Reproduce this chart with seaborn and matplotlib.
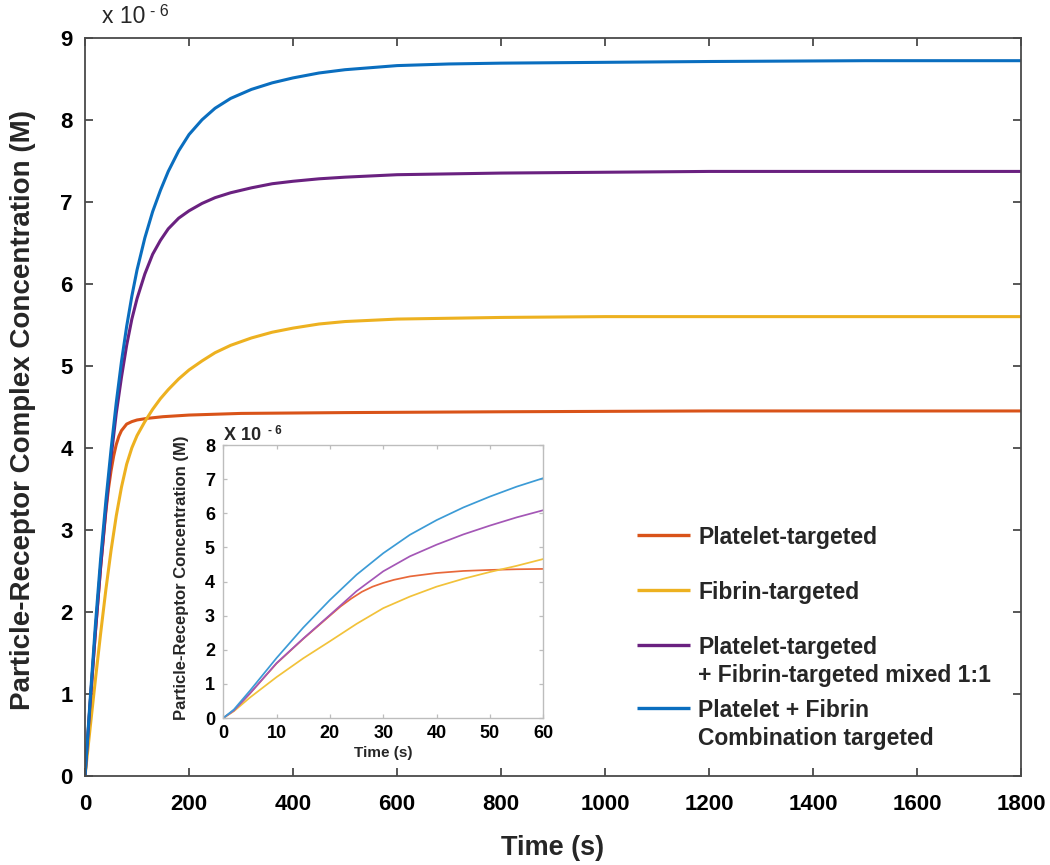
import numpy as np
import pandas as pd
import matplotlib
matplotlib.use("Agg")
import matplotlib.pyplot as plt
import seaborn as sns
from matplotlib.lines import Line2D

# ---------------- data (concentration in units of 1e-6 M) ----------------
series_names = ["Platelet-targeted", "Fibrin-targeted", "Mixed 1:1", "Combination"]
legend_labels = ["Platelet-targeted",
                 "Fibrin-targeted",
                 "Platelet-targeted\n+ Fibrin-targeted mixed 1:1",
                 "Platelet + Fibrin\nCombination targeted"]

# main panel (0-1800 s)
red_t = [0, 10, 20, 30, 40, 45, 50, 55, 60, 65, 70, 80, 90, 100, 120, 150, 200, 300, 500, 800, 1200, 1800]
red_v = [0, 0.9, 1.76, 2.55, 3.22, 3.5, 3.72, 3.9, 4.04, 4.14, 4.21, 4.29, 4.32, 4.34, 4.36, 4.38, 4.40, 4.42, 4.43, 4.44, 4.45, 4.45]

yellow_t = [0, 10, 20, 30, 40, 50, 60, 70, 80, 90, 100, 115, 130, 145, 160, 180, 200, 225, 250, 280,
            320, 360, 400, 450, 500, 600, 700, 800, 1000, 1800]
yellow_v = [0, 0.6, 1.18, 1.74, 2.27, 2.75, 3.17, 3.52, 3.8, 4.0, 4.15, 4.32, 4.47, 4.6, 4.71, 4.84, 4.95,
            5.06, 5.16, 5.25, 5.34, 5.41, 5.46, 5.51, 5.54, 5.57, 5.58, 5.59, 5.6, 5.6]

purple_t = [0, 10, 20, 30, 40, 50, 60, 70, 80, 90, 100, 115, 130, 145, 160, 180, 200, 225, 250, 280,
            320, 360, 400, 450, 500, 600, 700, 800, 1000, 1200, 1500, 1800]
purple_v = [0, 0.9, 1.76, 2.55, 3.25, 3.88, 4.42, 4.86, 5.25, 5.57, 5.82, 6.12, 6.36, 6.53, 6.67, 6.8, 6.89,
            6.98, 7.05, 7.11, 7.17, 7.22, 7.25, 7.28, 7.30, 7.33, 7.34, 7.35, 7.36, 7.37, 7.37, 7.37]

blue_t = [0, 10, 20, 30, 40, 50, 60, 70, 80, 90, 100, 115, 130, 145, 160, 180, 200, 225, 250, 280,
          320, 360, 400, 450, 500, 600, 700, 800, 1000, 1200, 1500, 1800]
blue_v = [0, 0.95, 1.85, 2.65, 3.35, 3.98, 4.55, 5.05, 5.48, 5.85, 6.17, 6.56, 6.88, 7.14, 7.37, 7.62, 7.82,
          8.0, 8.14, 8.26, 8.37, 8.45, 8.51, 8.57, 8.61, 8.66, 8.68, 8.69, 8.70, 8.71, 8.72, 8.72]

# inset panel (0-60 s)
inset_red_t = [0, 2, 5, 10, 15, 20, 22, 24, 26, 28, 30, 32, 35, 40, 45, 50, 55, 60]
inset_red_v = [0, 0.22, 0.72, 1.6, 2.32, 3.0, 3.27, 3.5, 3.7, 3.85, 3.96, 4.05, 4.15, 4.25, 4.31, 4.34, 4.36, 4.37]
inset_t = [0, 2, 5, 10, 15, 20, 25, 30, 35, 40, 45, 50, 55, 60]
inset_yellow = [0, 0.2, 0.6, 1.2, 1.75, 2.25, 2.76, 3.22, 3.56, 3.85, 4.08, 4.28, 4.46, 4.66]
inset_purple = [0, 0.22, 0.72, 1.61, 2.33, 3.02, 3.72, 4.3, 4.74, 5.08, 5.38, 5.64, 5.88, 6.09]
inset_blue = [0, 0.25, 0.8, 1.76, 2.65, 3.46, 4.2, 4.83, 5.37, 5.8, 6.17, 6.49, 6.78, 7.03]

main_xticks = list(range(0, 1801, 200))
main_yticks = list(range(0, 10))
inset_xticks = list(range(0, 61, 10))
inset_yticks = list(range(0, 9))

main_colors = ["#D95319", "#EDB120", "#6A2180", "#0A6EBF"]
inset_colors = ["#E8683A", "#F2C23A", "#A457B6", "#3C9BD6"]

# ---------------- long-form tables ----------------
main_parts = []
for name, t, v in zip(series_names, [red_t, yellow_t, purple_t, blue_t],
                      [red_v, yellow_v, purple_v, blue_v]):
    main_parts.append(pd.DataFrame({"t": t, "v": v, "series": name}))
df_main = pd.concat(main_parts, ignore_index=True)

inset_parts = []
for name, t, v in zip(series_names, [inset_red_t, inset_t, inset_t, inset_t],
                      [inset_red_v, inset_yellow, inset_purple, inset_blue]):
    inset_parts.append(pd.DataFrame({"t": t, "v": v, "series": name}))
df_inset = pd.concat(inset_parts, ignore_index=True)

# ---------------- style ----------------
sns.set_theme(style="white")
plt.rcParams["font.family"] = ["Liberation Sans", "DejaVu Sans"]
plt.rcParams["font.weight"] = "bold"

fig = plt.figure(figsize=(10.5, 8.65), dpi=100)
ax = fig.add_axes([0.0810, 0.1029, 0.8914, 0.8535])

sns.lineplot(data=df_main, x="t", y="v", hue="series", hue_order=series_names,
             palette=main_colors, estimator=None, sort=True, linewidth=2.2,
             legend=False, ax=ax)

ax.set_xlim(0, 1800)
ax.set_ylim(0, 9)
ax.set_xticks(main_xticks)
ax.set_yticks(main_yticks)
spine_col = "#4a4a4a"
for s in ax.spines.values():
    s.set_color(spine_col)
    s.set_linewidth(1.3)
ax.tick_params(direction="in", length=6, width=1.3, color=spine_col,
               top=True, right=True, bottom=True, left=True,
               labelsize=16, labelcolor="black")
ax.tick_params(axis="x", pad=13)
ax.tick_params(axis="y", pad=9)
for lbl in ax.get_xticklabels() + ax.get_yticklabels():
    lbl.set_fontweight("bold")

ax.set_xlabel("Time (s)", fontsize=19.5, fontweight="bold")
ax.set_ylabel("Particle-Receptor Complex Concentration (M)", fontsize=20, fontweight="bold")
ax.xaxis.set_label_coords(0.5, -0.080)
ax.yaxis.set_label_coords(-0.052, 0.496)

ax.text(0.018, 1.0203, "x 10", transform=ax.transAxes, fontsize=16.5,
        fontweight="normal", va="baseline", ha="left")
ax.text(0.0690, 1.0300, "- 6", transform=ax.transAxes, fontsize=11.5,
        fontweight="normal", va="baseline", ha="left")

# legend (manual, handle aligned to first text line)
leg_y = [0.3264, 0.2519, 0.1774, 0.0921]
for col, lab, y in zip(main_colors, legend_labels, leg_y):
    ax.add_line(Line2D([0.590, 0.646], [y, y], transform=ax.transAxes,
                       color=col, lw=2.4, solid_capstyle="butt"))
    ax.text(0.655, y + 0.0118, lab, transform=ax.transAxes, fontsize=16.5,
            fontweight="bold", va="top", ha="left", linespacing=1.28)

# ---------------- inset ----------------
ix = fig.add_axes([0.2126, 0.1699, 0.3048, 0.3156])
ix.set_facecolor("white")
sns.lineplot(data=df_inset, x="t", y="v", hue="series", hue_order=series_names,
             palette=inset_colors, estimator=None, sort=True, linewidth=1.25,
             legend=False, ax=ix)
ix.set_xlim(0, 60)
ix.set_ylim(0, 8)
ix.set_xticks(inset_xticks)
ix.set_yticks(inset_yticks)
icol = "#bdbdbd"
for s in ix.spines.values():
    s.set_color(icol)
    s.set_linewidth(1.0)
ix.tick_params(direction="in", length=3, width=0.9, color=icol,
               top=True, right=True, bottom=True, left=True,
               labelsize=13, labelcolor="black")
ix.tick_params(axis="x", pad=5)
ix.tick_params(axis="y", pad=6)
for lbl in ix.get_xticklabels() + ix.get_yticklabels():
    lbl.set_fontweight("bold")
ix.set_xlabel("Time (s)", fontsize=11, fontweight="bold")
ix.set_ylabel("Particle-Receptor Concentration (M)", fontsize=12, fontweight="bold")
ix.xaxis.set_label_coords(0.5, -0.102)
ix.yaxis.set_label_coords(-0.108, 0.515)
ix.text(0.003, 1.018, "X 10", transform=ix.transAxes, fontsize=13,
        fontweight="bold", va="baseline", ha="left")
ix.text(0.140, 1.040, "- 6", transform=ix.transAxes, fontsize=8.5,
        fontweight="bold", va="baseline", ha="left")

fig.savefig("out.png", dpi=100, facecolor="white")
